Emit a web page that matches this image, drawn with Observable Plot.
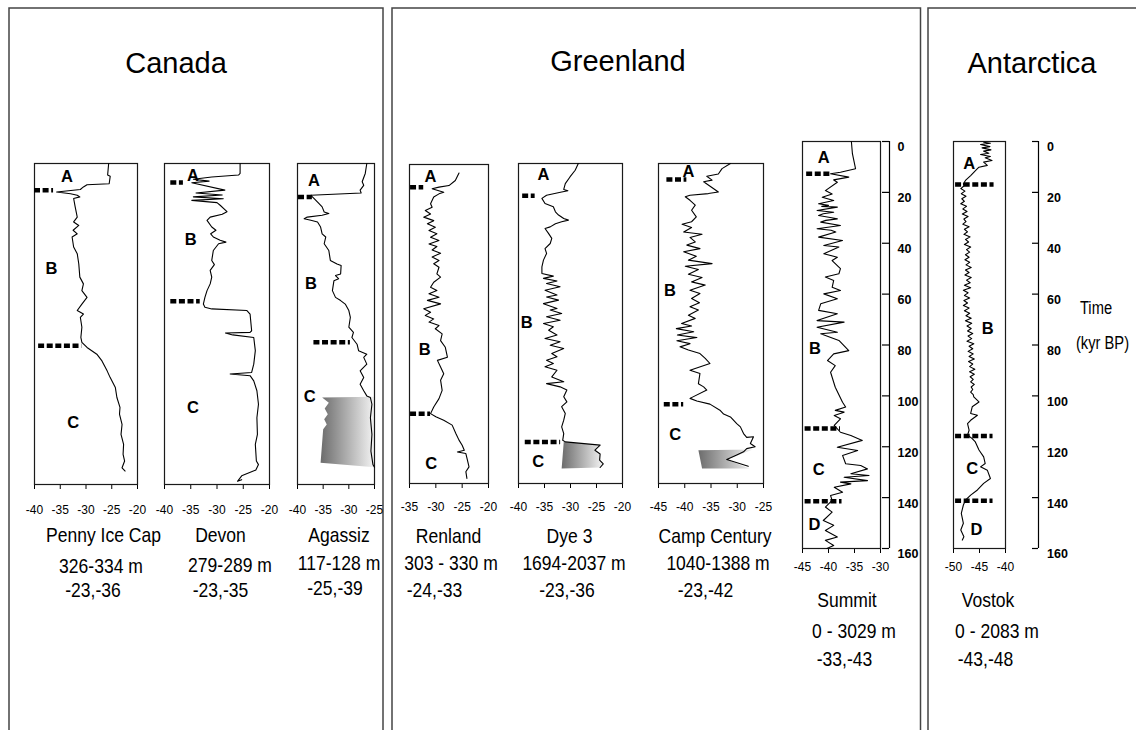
<!DOCTYPE html>
<html><head><meta charset="utf-8">
<script src="https://cdn.jsdelivr.net/npm/d3@7"></script>
<script src="https://cdn.jsdelivr.net/npm/@observablehq/plot@0.6"></script>
<style>
html,body{margin:0;padding:0;background:#fff;}
#fig{position:relative;width:1136px;height:730px;overflow:hidden;background:#fff;font-family:"Liberation Sans",Arial,sans-serif;}
</style></head>
<body>
<svg width="0" height="0" style="position:absolute;left:0;top:0">
<defs><linearGradient id="fade" x1="0" x2="1" y1="0" y2="0"><stop offset="0" stop-color="#6c6c6c"/><stop offset="1" stop-color="#f4f4f4"/></linearGradient></defs>
</svg>
<div id="fig"></div>
<script>
// ---------------- DATA ----------------
const regions = ["Canada", "Greenland", "Antarctica"];
const coreNames = ["Penny Ice Cap", "Devon", "Agassiz", "Renland", "Dye 3", "Camp Century", "Summit", "Vostok"];
const depthRanges = ["326-334 m", "279-289 m", "117-128 m", "303 - 330 m", "1694-2037 m", "1040-1388 m", "0 - 3029 m", "0 - 2083 m"];
const isotopeRanges = ["-23,-36", "-23,-35", "-25,-39", "-24,-33", "-23,-36", "-23,-42", "-33,-43", "-43,-48"];

const ticks40to20 = [-40, -35, -30, -25, -20];
const ticks40to25 = [-40, -35, -30, -25];
const ticks35to20 = [-35, -30, -25, -20];
const ticks45to25 = [-45, -40, -35, -30, -25];
const ticks45to30 = [-45, -40, -35, -30];
const ticks50to40 = [-50, -45, -40];
const timeTicks = [0, 20, 40, 60, 80, 100, 120, 140, 160];
const timeAxisTitle = ["Time", "(kyr BP)"];

// profiles: [delta18O, relative depth (0-100) or age (kyr)]
const pennyProfile = [[-25.6,0],[-25.8,3.6],[-25.3,4.0],[-25.5,6.3],[-29.8,6.6],[-30.5,7.3],[-31.1,8.1],[-35.7,8.9],[-33.0,9.4],[-31.7,9.9],[-31.2,10.4],[-32.4,10.9],[-32.1,13.5],[-31.7,16.7],[-32.4,18.2],[-31.4,19.3],[-32.5,20.8],[-31.7,21.9],[-32.7,22.9],[-32.4,26.0],[-31.7,28.1],[-31.4,31.3],[-31.2,35.4],[-30.5,37.5],[-30.8,39.6],[-29.8,41.7],[-30.8,43.8],[-31.7,45.8],[-30.5,46.9],[-31.1,47.9],[-30.8,51.0],[-31.0,54.2],[-30.8,55.7],[-29.8,57.3],[-27.9,59.4],[-26.9,61.5],[-25.9,64.6],[-25.3,66.7],[-24.3,69.8],[-24.0,72.9],[-23.4,76.0],[-23.5,78.1],[-23.0,81.3],[-23.2,84.4],[-22.7,87.5],[-22.8,90.6],[-22.5,92.7],[-23.0,94.8],[-22.4,95.8]];
const devonProfile = [[-25.6,0],[-25.6,3.1],[-25.9,3.6],[-31.0,4.2],[-34.5,4.9],[-31.5,5.5],[-34.8,6.0],[-28.5,8.3],[-34.0,9.2],[-29.0,9.8],[-34.5,10.4],[-28.8,11.0],[-34.8,11.5],[-30.0,12.2],[-29.4,13.0],[-28.1,15.0],[-29.0,15.8],[-31.3,16.7],[-31.9,17.7],[-31.0,19.8],[-30.2,20.8],[-31.2,21.9],[-30.7,22.9],[-29.4,23.9],[-28.3,24.5],[-29.7,25.0],[-30.7,27.1],[-31.0,30.2],[-30.5,31.5],[-31.3,33.3],[-31.0,35.4],[-31.3,37.5],[-31.9,39.6],[-32.3,41.7],[-32.6,43.8],[-32.3,44.8],[-31.0,45.3],[-24.3,45.8],[-23.7,46.9],[-23.4,52.1],[-23.7,52.6],[-28.4,52.8],[-27.0,53.4],[-23.0,54.2],[-22.7,58.3],[-23.0,62.5],[-23.4,65.1],[-27.5,65.6],[-23.7,66.1],[-23.0,67.7],[-22.4,70.8],[-22.1,75.0],[-22.4,79.2],[-22.3,84.4],[-22.7,87.5],[-22.5,92.7],[-22.1,93.8],[-22.6,95.5],[-25.3,97.3],[-26.1,99.0],[-25.3,98.5]];
const agassizProfile = [[-26.5,0],[-26.8,3.1],[-27.4,5.7],[-27.1,6.8],[-27.8,8.3],[-27.6,9.2],[-37.4,9.9],[-36.8,10.9],[-35.8,12.5],[-35.2,13.5],[-34.8,15.1],[-33.9,15.6],[-35.2,16.1],[-38.1,16.7],[-38.7,17.2],[-37.4,17.7],[-36.1,18.2],[-35.5,19.8],[-35.2,21.9],[-34.5,22.9],[-34.8,25.0],[-33.9,27.1],[-33.6,30.2],[-32.3,31.3],[-31.5,31.8],[-31.6,34.4],[-32.6,34.9],[-32.0,35.9],[-32.9,36.5],[-33.2,39.6],[-32.6,41.7],[-31.6,42.7],[-30.7,43.8],[-30.0,45.8],[-29.7,47.9],[-30.0,51.0],[-29.1,52.6],[-29.4,54.2],[-28.4,56.3],[-28.1,58.3],[-26.5,59.4],[-27.1,60.4],[-26.5,62.5],[-27.8,64.6],[-27.1,66.7],[-27.8,68.8],[-27.1,70.8],[-26.5,72.4],[-25.8,72.9],[-25.5,75.0],[-25.8,79.2],[-25.5,84.4],[-25.7,89.6],[-25.3,93.8],[-25.0,94.6]];
const renlandProfile = [[-25.6,2.7],[-26.3,5.0],[-27.5,6.6],[-29.4,7.1],[-30.7,7.6],[-28.5,8.7],[-29.4,9.2],[-30.4,10.2],[-31.0,12.3],[-30.7,13.4],[-32.0,14.4],[-31.0,15.5],[-32.3,16.5],[-30.4,17.6],[-31.6,18.6],[-30.1,19.7],[-31.3,20.7],[-29.8,21.7],[-31.0,22.8],[-29.4,23.8],[-31.3,24.9],[-29.8,25.7],[-30.7,26.8],[-29.1,27.8],[-30.7,29.0],[-29.4,30.1],[-30.4,31.1],[-29.4,32.2],[-29.8,34.3],[-29.1,35.3],[-30.4,36.9],[-31.0,38.5],[-29.8,39.5],[-31.3,40.5],[-29.4,41.6],[-31.6,42.6],[-29.1,43.7],[-32.3,45.2],[-31.0,46.3],[-32.0,47.3],[-30.4,48.4],[-31.3,49.4],[-29.4,50.5],[-30.1,51.5],[-28.8,53.1],[-29.1,55.2],[-28.2,57.3],[-27.8,60.4],[-29.7,61.4],[-29.1,63.5],[-28.5,65.6],[-29.1,67.6],[-28.8,70.8],[-29.4,73.4],[-30.4,76.0],[-31.0,78.1],[-30.0,79.1],[-28.5,80.2],[-26.9,81.7],[-26.2,84.3],[-25.6,86.4],[-25.0,88.0],[-24.6,89.6],[-25.9,90.1],[-24.3,90.6],[-24.0,92.7],[-23.7,94.8],[-24.3,96.3],[-24.1,98.4]];
const dye3Profile = [[-28.5,0],[-29.1,2.1],[-30.1,4.2],[-31.0,6.3],[-31.3,8.1],[-30.5,8.5],[-31.7,8.9],[-32.6,9.2],[-34.6,9.9],[-35.5,10.9],[-34.9,12.5],[-33.3,13.5],[-32.9,15.1],[-32.3,16.1],[-31.3,17.2],[-30.4,17.7],[-31.7,18.2],[-32.9,18.8],[-33.9,19.8],[-34.9,20.3],[-34.2,21.9],[-33.6,23.4],[-33.9,25.0],[-34.9,26.6],[-34.6,28.1],[-35.2,30.2],[-35.5,32.3],[-35.5,34.4],[-33.3,35.2],[-35.2,35.9],[-32.6,36.7],[-34.6,37.5],[-32.0,38.5],[-34.9,39.6],[-32.6,41.1],[-34.6,41.7],[-32.3,42.7],[-35.2,43.8],[-32.6,45.3],[-33.9,45.8],[-31.7,46.9],[-34.6,47.9],[-32.0,49.0],[-35.2,50.0],[-33.3,51.0],[-34.2,52.1],[-32.6,53.6],[-34.9,54.7],[-32.0,55.7],[-33.9,56.8],[-31.3,57.8],[-33.6,59.4],[-32.6,60.4],[-34.6,61.5],[-33.3,62.5],[-34.9,63.5],[-32.6,64.6],[-33.6,66.7],[-31.3,68.2],[-34.6,68.8],[-32.0,69.8],[-30.7,70.8],[-31.3,72.9],[-30.7,74.5],[-31.7,76.0],[-31.0,78.1],[-31.3,80.2],[-31.7,82.3],[-31.3,84.4],[-31.5,86.5],[-31.0,87.0],[-24.3,88.0],[-25.3,89.6],[-24.3,90.8],[-24.4,92.7],[-23.7,93.9],[-24.3,95.0]];
const campProfile = [[-31.3,0],[-32.9,1.6],[-33.6,3.3],[-35.8,4.0],[-34.8,5.2],[-36.4,5.7],[-33.6,8.9],[-35.5,9.4],[-39.0,9.9],[-39.9,10.4],[-39.0,11.5],[-38.0,13.0],[-38.7,14.6],[-37.8,16.7],[-38.7,18.2],[-40.5,19.0],[-38.7,20.0],[-40.2,21.4],[-36.7,22.1],[-39.0,23.1],[-38.0,24.5],[-39.6,25.5],[-37.1,26.6],[-40.2,27.6],[-37.8,29.0],[-39.3,30.2],[-34.8,31.3],[-39.9,32.1],[-37.4,33.1],[-39.3,34.6],[-36.7,35.6],[-38.7,37.0],[-36.1,38.0],[-39.0,39.6],[-37.1,40.6],[-38.7,42.2],[-37.2,43.5],[-39.0,44.8],[-37.4,45.8],[-39.3,47.4],[-38.0,48.4],[-40.6,50.0],[-38.7,50.8],[-41.6,51.6],[-38.3,52.6],[-41.4,53.6],[-37.7,54.4],[-41.5,55.4],[-39.0,56.3],[-40.9,57.3],[-39.3,58.3],[-37.1,59.4],[-36.1,60.9],[-35.2,62.5],[-39.0,64.6],[-37.1,65.6],[-37.4,68.8],[-36.4,69.8],[-35.8,70.8],[-39.0,73.4],[-37.7,74.2],[-35.2,75.2],[-33.3,77.1],[-32.6,78.3],[-31.3,79.2],[-30.1,81.3],[-29.4,82.3],[-28.8,84.4],[-28.2,85.6],[-26.9,85.4],[-27.5,87.5],[-26.6,88.5],[-28.2,89.1],[-28.8,90.1],[-30.1,91.1],[-32.0,92.5],[-27.9,94.6]];
const summitProfile = [[-35.6,0],[-35.4,4.8],[-34.8,10.7],[-37.7,12.1],[-39.6,12.7],[-36.1,14.0],[-39.0,15.1],[-38.3,16.0],[-40.6,19.3],[-39.3,20.6],[-41.2,21.9],[-39.0,23.2],[-41.9,24.5],[-40.0,25.1],[-41.3,25.5],[-38.3,25.8],[-42.2,27.1],[-39.0,27.8],[-41.0,28.4],[-41.9,29.1],[-38.3,30.4],[-40.5,31.0],[-41.5,31.7],[-37.7,33.0],[-42.2,34.3],[-39.5,34.9],[-38.6,35.6],[-41.9,37.6],[-37.3,38.9],[-40.9,40.9],[-38.0,41.5],[-40.9,44.1],[-38.3,45.5],[-39.3,46.8],[-37.7,50.0],[-38.0,52.0],[-40.6,53.3],[-39.0,54.6],[-39.3,57.3],[-37.7,58.6],[-40.9,59.9],[-38.3,61.8],[-41.5,63.8],[-41.9,66.4],[-38.3,67.7],[-42.2,70.4],[-37.0,71.0],[-42.2,73.0],[-38.3,75.0],[-41.5,75.6],[-38.0,78.2],[-36.1,82.2],[-39.0,83.5],[-40.2,86.1],[-38.7,88.1],[-39.6,90.7],[-38.7,96.6],[-37.3,102.5],[-36.7,104.4],[-38.7,105.7],[-37.0,106.4],[-38.9,107.7],[-37.7,109.0],[-38.9,111.6],[-37.7,114.3],[-35.7,115.6],[-33.5,117.5],[-38.3,120.2],[-34.4,121.5],[-37.3,123.4],[-36.7,126.7],[-33.8,127.4],[-32.5,128.7],[-35.7,130.6],[-32.2,131.3],[-37.0,132.0],[-32.5,133.3],[-37.7,133.9],[-35.7,134.6],[-38.9,135.9],[-37.3,137.9],[-39.6,139.2],[-39.3,141.1],[-40.6,143.7],[-39.3,145.7],[-41.0,149.0],[-39.0,150.9],[-40.6,152.9],[-38.3,155.5],[-40.6,156.8],[-39.0,158.8],[-40.3,160]];
const vostokProfile = [[-44.2,0.3],[-42.9,0.7],[-44.8,1.2],[-43.0,2.0],[-44.5,2.5],[-42.8,3.3],[-44.2,3.8],[-43.2,4.6],[-44.8,5.1],[-42.9,5.9],[-43.9,6.4],[-42.6,7.5],[-44.2,8.1],[-43.5,9.4],[-45.1,10.1],[-45.4,10.7],[-46.7,13.4],[-47.7,15.3],[-48.1,16.6],
  [-48.0,17.5],[-48.6,18.5],[-47.8,19.5],[-48.5,20.5],[-47.6,21.5],[-48.4,22.5],[-47.9,23.5],[-48.6,24.5],[-47.5,25.5],[-48.2,26.5],[-47.4,27.5],[-48.3,28.5],[-47.2,29.5],[-48.0,30.5],[-47.6,31.5],[-48.2,32.5],[-47.0,33.5],[-47.9,34.5],[-47.3,35.5],[-48.0,36.5],[-46.8,37.5],[-47.7,38.5],[-47.1,39.5],[-47.9,40.5],[-46.7,41.5],[-47.5,42.5],[-46.9,43.5],[-47.7,44.5],[-47.0,45.5],[-47.8,46.5],[-46.9,47.5],[-47.6,48.5],[-46.6,49.5],[-47.7,50.5],[-47.0,51.5],[-47.8,52.5],[-46.6,53.5],[-47.5,54.5],[-46.8,55.5],[-47.9,56.5],[-46.7,57.5],[-48.1,58.5],[-47.2,59.5],[-47.9,60.5],[-46.9,61.5],[-48.0,62.5],[-47.3,63.5],[-48.1,64.5],[-47.0,65.5],[-47.9,66.5],[-46.9,67.5],[-47.6,68.5],[-46.6,69.5],[-47.7,70.5],[-46.5,71.5],[-47.4,72.5],[-46.6,73.5],[-47.3,74.5],[-46.3,75.5],[-47.2,76.5],[-46.5,77.5],[-47.4,78.5],[-46.1,79.5],[-47.0,80.5],[-46.3,81.5],[-47.2,82.5],[-46.2,83.5],[-47.0,84.5],[-46.0,85.5],[-47.1,86.5],[-46.3,87.5],[-46.9,88.5],[-45.9,89.5],[-46.9,90.5],[-46.0,91.5],[-46.8,92.5],[-46.2,93.5],[-46.7,94.5],[-46.0,95.5],[-46.6,96.5],[-46.3,97.5],[-46.7,98.5],[-46.2,99.5],
  [-46.1,100.4],[-45.1,102.4],[-46.4,104.3],[-46.7,106.9],[-45.4,107.6],[-46.7,109.6],[-47.3,110.9],[-47.0,113.5],[-47.3,115.4],[-46.4,116.8],[-45.8,118.1],[-45.1,121.3],[-44.2,124.0],[-43.9,126.6],[-44.8,127.9],[-43.5,129.2],[-42.9,132.5],[-44.2,134.4],[-45.4,137.0],[-46.7,139.0],[-47.7,141.0],[-48.1,142.9],[-48.5,146.2],[-48.1,150.1],[-48.6,152.7],[-48.0,155.4],[-48.3,156.7]];

// shaded (gradient) zones: polygon outlines [delta18O, depth]
const agassizShade = [[-35.2,72.9],[-25.0,72.7],[-25.0,94.6],[-35.5,93.2],[-35.0,82.8],[-34.3,81.3],[-34.8,79.7],[-34.1,78.1],[-34.7,76.3],[-33.9,74.5]];
const dye3Shade = [[-31.3,87.0],[-24.3,88.0],[-25.3,89.6],[-24.3,90.8],[-24.4,92.7],[-23.7,93.9],[-24.3,95.0],[-31.7,95.3]];
const campShade = [[-37.4,89.6],[-27.0,89.4],[-32.0,92.5],[-27.7,95.3],[-36.7,95.3]];

// zone boundaries: [depth, from, to]
const pennyBounds = [[8.3,-40,-36.3],[56.8,-39.2,-30.8]];
const devonBounds = [[5.9,-38.8,-36.4],[42.9,-38.8,-33.2]];
const agassizBounds = [[10.4,-39.8,-37.1],[55.7,-36.8,-29.7]];
const renlandBounds = [[7.1,-34.8,-32.3],[78.1,-34.8,-31.0]];
const dye3Bounds = [[10.1,-39.2,-36.8],[87.0,-38.7,-31.9]];
const campBounds = [[5.0,-43.4,-39.6],[75.2,-43.9,-40.2]];
const summitBounds = [[12.7,-44.2,-39.7],[112.8,-44.5,-37.7],[141.4,-44.5,-37.4]];
const vostokBounds = [[16.9,-49.6,-42.2],[115.8,-49.6,-42.4],[141.2,-49.6,-42.4]];

// zone letters: [letter, delta18O, depth]
const pennyZones = [["A",-33.7,4.2],["B",-36.7,32.8],["C",-32.5,80.7]];
const devonZones = [["A",-34.6,3.8],["B",-35.0,23.8],["C",-34.6,76.0]];
const agassizZones = [["A",-36.8,5.4],["B",-37.4,37.3],["C",-37.6,72.7]];
const renlandZones = [["A",-31.0,3.8],["B",-32.1,58.2],["C",-30.9,93.7]];
const dye3Zones = [["A",-35.2,3.6],["B",-38.4,49.8],["C",-36.2,93.2]];
const campZones = [["A",-39.3,2.6],["B",-42.8,39.6],["C",-41.8,84.9]];
const summitZones = [["A",-40.9,6.2],["B",-42.6,81.4],["C",-41.9,129.2],["D",-42.7,150.8]];
const vostokZones = [["A",-47.0,8.8],["B",-43.4,73.6],["C",-46.4,128.5],["D",-45.6,152.5]];

// ---------------- LAYOUT (positions / styles) ----------------
const FONT = '"Liberation Sans", Arial, sans-serif';
const panels = [
  {profile: pennyProfile, bounds: pennyBounds, zones: pennyZones, shade: null, domain: [-40,-20], ticks: ticks40to20, yMax: 100, box: [34,163,137,484], pad: 15.5},
  {profile: devonProfile, bounds: devonBounds, zones: devonZones, shade: null, domain: [-40,-20], ticks: ticks40to20, yMax: 100, box: [164,163,269,484], pad: 15.5},
  {profile: agassizProfile, bounds: agassizBounds, zones: agassizZones, shade: agassizShade, domain: [-40,-25], ticks: ticks40to25, yMax: 100, box: [297,163,374,484], pad: 15.5},
  {profile: renlandProfile, bounds: renlandBounds, zones: renlandZones, shade: null, domain: [-35,-20], ticks: ticks35to20, yMax: 100, box: [409,164,488,483], pad: 14},
  {profile: dye3Profile, bounds: dye3Bounds, zones: dye3Zones, shade: dye3Shade, domain: [-40,-20], ticks: ticks40to20, yMax: 100, box: [518,163,622,483], pad: 14},
  {profile: campProfile, bounds: campBounds, zones: campZones, shade: campShade, domain: [-45,-25], ticks: ticks45to25, yMax: 100, box: [658,163,763,483], pad: 14},
  {profile: summitProfile, bounds: summitBounds, zones: summitZones, shade: null, domain: [-45,-30], ticks: ticks45to30, yMax: 160, box: [802,141,880,548], pad: 9},
  {profile: vostokProfile, bounds: vostokBounds, zones: vostokZones, shade: null, domain: [-50,-40], ticks: ticks50to40, yMax: 160, box: [953,141,1005,548], pad: 9}
];
const timeAxes = [{x: 889, top: 141, bottom: 548, len: 7, dx: 8}, {x: 1038, top: 141, bottom: 548, len: 6, dx: 8.5}];
const labelPos = [
  {cx: [103.5, 101, 93], by: [542, 573, 597]},
  {cx: [220.5, 230, 220.5], by: [542, 572, 597]},
  {cx: [339, 339, 335], by: [542, 570, 595]},
  {cx: [448.5, 451, 434.5], by: [543, 570, 597]},
  {cx: [569.5, 574, 567], by: [543, 570, 597]},
  {cx: [715, 718, 705.5], by: [543, 570, 597]},
  {cx: [847, 854, 844.5], by: [607, 638, 666]},
  {cx: [988, 997, 985.5], by: [607, 638, 666]}
];
const titlePos = [{cx: 176, by: 73}, {cx: 618, by: 71}, {cx: 1032, by: 72.5}];
const framePos = [{x: 9, w: 374}, {x: 392, w: 528.5}, {x: 928, w: 300}];
const timeTitlePos = [{cx: 1096, by: 314}, {cx: 1102.5, by: 349}];

const fig = document.getElementById("fig");

// region frames (drawn below the panels)
const under = d3.select(fig).append("svg").attr("width", 1136).attr("height", 730)
  .style("position", "absolute").style("left", "0px").style("top", "0px");
framePos.forEach(f => under.append("rect").attr("x", f.x).attr("y", 8).attr("width", f.w).attr("height", 800)
  .attr("fill", "none").attr("stroke", "#444").attr("stroke-width", 1.5));

function styleTexts(svg, selector, size, weight) {
  svg.querySelectorAll(selector).forEach(g => {
    g.style.fontSize = size; g.style.fontFamily = FONT; g.style.fontWeight = weight;
    g.querySelectorAll("text").forEach(t => { t.style.fontSize = size; t.style.fontFamily = FONT; t.style.fontWeight = weight; });
  });
}

function drawPanel(p) {
  const [L, T, R, B] = p.box;
  const ml = 24, mr = 24, mt = 6, mb = 40;
  const marks = [];
  if (p.shade) marks.push(Plot.line(p.shade, {x: d => d[0], y: d => d[1], fill: "url(#fade)", stroke: "none"}));
  marks.push(Plot.frame({stroke: "#1a1a1a", strokeWidth: 1.2}));
  marks.push(Plot.line(p.profile, {x: d => d[0], y: d => d[1], stroke: "#000", strokeWidth: 1.1}));
  marks.push(Plot.ruleY(p.bounds, {y: d => d[0], x1: d => d[1], x2: d => d[2], stroke: "#000", strokeWidth: 4.5, strokeDasharray: "6,2.6"}));
  marks.push(Plot.text(p.zones, {x: d => d[1], y: d => d[2], text: d => d[0], fontWeight: "bold", fontSize: 16.5, fill: "#000"}));
  const svg = Plot.plot({
    width: R - L + ml + mr, height: B - T + mt + mb,
    marginLeft: ml, marginRight: mr, marginTop: mt, marginBottom: mb,
    x: {domain: p.domain, ticks: p.ticks, tickSize: 5, tickPadding: p.pad, tickFormat: d => String(d), label: null},
    y: {domain: [0, p.yMax], reverse: true, axis: null},
    style: {background: "none", overflow: "visible", fontSize: "12px", fontFamily: FONT, color: "#000"},
    marks
  });
  styleTexts(svg, 'g[aria-label="text"]', "16.5px", "bold");
  styleTexts(svg, 'g[aria-label^="x-axis"]', "12px", "normal");
  svg.style.position = "absolute";
  svg.style.left = (L - ml) + "px";
  svg.style.top = (T - mt) + "px";
  svg.style.maxWidth = "none";
  fig.appendChild(svg);
}
panels.forEach(drawPanel);

function drawTimeAxis(a) {
  const ml = 2, mr = 40, mt = 8, mb = 24;
  const svg = Plot.plot({
    width: a.len + ml + mr, height: a.bottom - a.top + mt + mb,
    marginLeft: ml, marginRight: mr, marginTop: mt, marginBottom: mb,
    x: {domain: [0, 1], axis: null},
    y: {domain: [0, 160], reverse: true, axis: null},
    style: {background: "none", overflow: "visible", fontFamily: FONT, color: "#000"},
    marks: [
      Plot.ruleX([1], {stroke: "#000", strokeWidth: 1.2}),
      Plot.tickY(timeTicks, {y: d => d, stroke: "#000", strokeWidth: 1.2}),
      Plot.text(timeTicks, {y: d => d, text: d => String(d), frameAnchor: "right", textAnchor: "start", lineAnchor: "top", dx: a.dx, dy: 1, fill: "#000"})
    ]
  });
  styleTexts(svg, 'g[aria-label="text"]', "12.5px", "bold");
  svg.style.position = "absolute";
  svg.style.left = (a.x - a.len - ml) + "px";
  svg.style.top = (a.top - mt) + "px";
  svg.style.maxWidth = "none";
  fig.appendChild(svg);
}
timeAxes.forEach(drawTimeAxis);

// text overlay
const over = d3.select(fig).append("svg").attr("width", 1136).attr("height", 730)
  .style("position", "absolute").style("left", "0px").style("top", "0px").style("pointer-events", "none")
  .attr("font-family", FONT).attr("fill", "#000");
function addText(str, cx, by, size, sx) {
  over.append("text").attr("transform", `translate(${cx},${by}) scale(${sx},1)`)
    .attr("text-anchor", "middle").attr("font-size", size).text(str);
}
regions.forEach((r, i) => addText(r, titlePos[i].cx, titlePos[i].by, 29, 1));
coreNames.forEach((n, i) => {
  const lp = labelPos[i];
  addText(n, lp.cx[0], lp.by[0], 21, 0.835);
  addText(depthRanges[i], lp.cx[1], lp.by[1], 21, 0.835);
  addText(isotopeRanges[i], lp.cx[2], lp.by[2], 21, 0.835);
});
timeAxisTitle.forEach((t, i) => addText(t, timeTitlePos[i].cx, timeTitlePos[i].by, 17.5, 0.84));
</script>
</body></html>
